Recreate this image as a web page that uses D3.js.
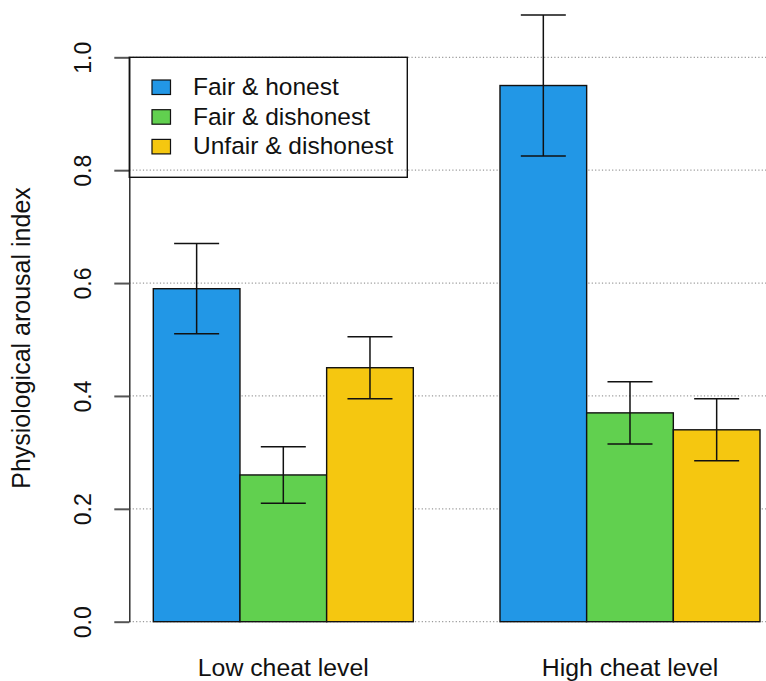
<!DOCTYPE html>
<html>
<head>
<meta charset="utf-8">
<script src="https://cdn.jsdelivr.net/npm/d3@7/dist/d3.min.js"></script>
<style>
  html, body { margin: 0; padding: 0; background: #fff; }
  svg { display: block; font-family: 'Liberation Sans', Arial, Helvetica, sans-serif; }
</style>
</head>
<body>
<div id="chart"></div>
<script>
// ── Data ─────────────────────────────────────────
const groups = ['Low cheat level', 'High cheat level'];
const series = ['Fair & honest', 'Fair & dishonest', 'Unfair & dishonest'];
const colors = ['#2297E6', '#61D04F', '#F5C710'];
// values per series, in group order
const means = [[0.59, 0.95], [0.26, 0.37], [0.45, 0.34]];
const lower = [[0.51, 0.825], [0.21, 0.315], [0.395, 0.285]];
const upper = [[0.67, 1.075], [0.31, 0.425], [0.505, 0.395]];
const yTicks = [0, 0.2, 0.4, 0.6, 0.8, 1.0];

const W = 766, H = 681;
const M = { top: 57.3, left: 129.3 };
const iH = 564.4;

const svg = d3.select('#chart').append('svg')
     .attr('width', W).attr('height', H)
     .attr('viewBox', `0 0 ${W} ${H}`);

const y = d3.scaleLinear().domain([0, 1]).range([M.top + iH, M.top]);
// bars are 86.7px wide, one-bar gap between groups
const x0 = d3.scaleBand().domain(groups).range([153.3, 760]).paddingInner(0.25).paddingOuter(0);
const x1 = d3.scaleBand().domain(series).range([0, x0.bandwidth()]).padding(0);

const rows = [];
groups.forEach((g, gi) => series.forEach((s, si) => rows.push({
     g, s, si, v: means[si][gi], lo: lower[si][gi], hi: upper[si][gi]
})));

// ── Grid ─────────────────────────────────────────
svg.append('g').selectAll('line')
     .data(yTicks).join('line')
     .attr('x1', M.left).attr('x2', W)
     .attr('y1', d => y(d)).attr('y2', d => y(d))
     .attr('stroke', '#9a9a9a').attr('stroke-width', 1.2)
     .attr('stroke-dasharray', '1.2 2.2');

// ── Bars ─────────────────────────────────────────
svg.append('g').selectAll('rect')
     .data(rows).join('rect')
     .attr('x', d => x0(d.g) + x1(d.s))
     .attr('y', d => y(d.v))
     .attr('width', x1.bandwidth())
     .attr('height', d => y(0) - y(d.v))
     .attr('fill', d => colors[d.si])
     .attr('stroke', '#111').attr('stroke-width', 1.4);

// ── Error bars ───────────────────────────────────
const eb = svg.append('g').attr('stroke', '#111').attr('stroke-width', 1.5);
const cx = d => x0(d.g) + x1(d.s) + x1.bandwidth() / 2;
eb.selectAll('.whisk').data(rows).join('line')
     .attr('x1', cx).attr('x2', cx)
     .attr('y1', d => y(d.lo)).attr('y2', d => y(d.hi));
['lo', 'hi'].forEach(k => {
     eb.selectAll('.cap-' + k).data(rows).join('line')
          .attr('x1', d => cx(d) - 22.5).attr('x2', d => cx(d) + 22.5)
          .attr('y1', d => y(d[k])).attr('y2', d => y(d[k]));
});

// ── Y axis ───────────────────────────────────────
const ax = svg.append('g').attr('transform', `translate(${M.left},0)`)
     .call(d3.axisLeft(y).tickValues(yTicks).tickFormat(d3.format('.1f')).tickSize(15).tickSizeOuter(0));
ax.select('.domain').attr('stroke', '#222').attr('stroke-width', 1.4);
ax.selectAll('.tick line').attr('stroke', '#555').attr('stroke-width', 2);
ax.selectAll('.tick text')
     .attr('font-size', '23px').attr('fill', '#111')
     .attr('transform', 'rotate(-90)')
     .attr('x', 0).attr('y', -46).attr('dy', '0.35em')
     .attr('text-anchor', 'middle');

svg.append('text')
     .attr('transform', `translate(30,338) rotate(-90)`)
     .attr('text-anchor', 'middle')
     .attr('font-size', '25px').attr('fill', '#111')
     .text('Physiological arousal index');

// ── Group labels ─────────────────────────────────
svg.append('g').selectAll('text')
     .data(groups).join('text')
     .attr('x', d => x0(d) + x0.bandwidth() / 2)
     .attr('y', 676)
     .attr('text-anchor', 'middle')
     .attr('font-size', '24.8px').attr('fill', '#111')
     .text(d => d);

// ── Legend ───────────────────────────────────────
const lg = svg.append('g');
lg.append('rect')
     .attr('x', M.left).attr('y', M.top).attr('width', 278).attr('height', 120)
     .attr('fill', 'none').attr('stroke', '#111').attr('stroke-width', 1.4);
const item = lg.selectAll('.item').data(series).join('g')
     .attr('transform', (d, i) => `translate(152,${80 + i * 29.7})`);
item.append('rect')
     .attr('width', 18.5).attr('height', 14.5)
     .attr('fill', (d, i) => colors[i])
     .attr('stroke', '#111').attr('stroke-width', 1.2);
item.append('text')
     .attr('x', 41).attr('y', 15)
     .attr('font-size', '24.5px').attr('fill', '#111')
     .text(d => d);
</script>
</body>
</html>
